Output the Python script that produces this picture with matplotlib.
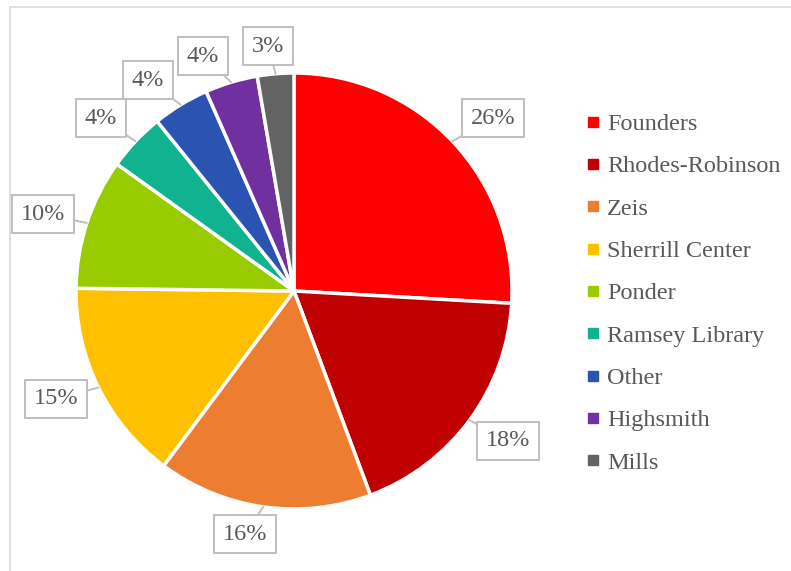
import numpy as np
import matplotlib
matplotlib.use("Agg")
import matplotlib.pyplot as plt
from matplotlib.patches import Rectangle
from matplotlib.lines import Line2D

plt.rcParams['font.family'] = ['Liberation Serif', 'DejaVu Serif']

# data
buildings = ["Founders", "Rhodes-Robinson", "Zeis", "Sherrill Center", "Ponder",
             "Ramsey Library", "Other", "Highsmith", "Mills"]
shares = [25.9, 18.4, 15.9, 15.0, 9.7, 4.3, 4.2, 3.9, 2.7]
colors = ["#FF0000", "#C00000", "#ED7D31", "#FFC000", "#99CC00",
          "#10B28F", "#2B54B2", "#7030A0", "#636363"]

# label box centres (pixels from top-left), layout only
label_pos = [(493, 118), (508, 441), (245, 534), (56, 399), (43, 214),
             (101, 118), (148, 80), (203, 56), (268, 46)]

W, H = 791, 571
fig = plt.figure(figsize=(W / 100, H / 100), dpi=100)
ax = fig.add_axes([0, 0, 1, 1])

cx, cy, r = 294, H - 291, 218
wedges, _ = ax.pie(shares, colors=colors, startangle=90, counterclock=False,
                   radius=r, center=(cx, cy), frame=True,
                   wedgeprops=dict(edgecolor="white", linewidth=2.5))
ax.set_xlim(0, W)
ax.set_ylim(0, H)
ax.set_aspect("auto")
ax.axis("off")

# chart area border
ax.add_patch(Rectangle((10, -20), W, H - 7 + 20, fill=False,
                       edgecolor="#D9D9D9", linewidth=1.2, clip_on=False))

text_col = "#595959"
for w, val, (lx, ly) in zip(wedges, shares, label_pos):
    mid = np.deg2rad((w.theta1 + w.theta2) / 2)
    px, py = cx + r * np.cos(mid), cy + r * np.sin(mid)
    ly = H - ly
    ax.annotate(f"{val:.0f}%", xy=(px, py), xytext=(lx, ly), ha="center", va="center",
                fontsize=17.5, color=text_col,
                bbox=dict(boxstyle="square,pad=0.35", fc="white", ec="#BFBFBF", lw=1.4),
                arrowprops=dict(arrowstyle="-", color="#BFBFBF", lw=1.4,
                                shrinkA=0, shrinkB=0))

handles = [Line2D([], [], marker="s", linestyle="", markersize=7,
                  markerfacecolor=c, markeredgecolor=c) for c in colors]
ax.legend(handles, buildings, loc="upper left", bbox_to_anchor=(574 / W, 1 - 101 / H),
          frameon=False, fontsize=17.5, labelcolor=text_col, handlelength=0.6,
          handletextpad=0.25, labelspacing=0.835, borderpad=0)

fig.savefig("out.png", dpi=100)
